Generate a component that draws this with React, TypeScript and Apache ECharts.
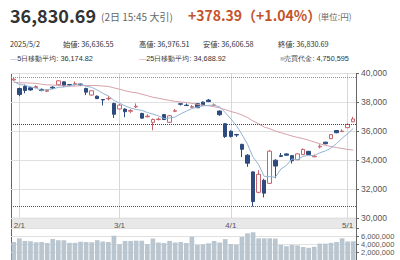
import React, { useEffect, useRef } from "react";
import * as echarts from "echarts";

const FONT = '"Noto Sans CJK JP", "Noto Sans", sans-serif';
const NUMFONT = '"Liberation Sans", Arial, sans-serif';

const dates = [
  "1/31",
  "2/3", "2/4", "2/5", "2/6", "2/7", "2/10", "2/12", "2/13", "2/14", "2/17", "2/18", "2/19", "2/20", "2/21", "2/25", "2/26", "2/27", "2/28",
  "3/3", "3/4", "3/5", "3/6", "3/7", "3/10", "3/11", "3/12", "3/13", "3/14", "3/17", "3/18", "3/19", "3/21", "3/24", "3/25", "3/26", "3/27", "3/28", "3/31",
  "4/1", "4/2", "4/3", "4/4", "4/7", "4/8", "4/9", "4/10", "4/11", "4/14", "4/15", "4/16", "4/17", "4/18", "4/21", "4/22", "4/23", "4/24", "4/25", "4/28", "4/30",
  "5/1", "5/2",
];

const opens = [39520, 38930, 39070, 38980, 39000, 38870, 38740, 39020, 39190, 39390, 39200, 39210, 39240, 38935, 38480, 38400, 38170, 38220, 37900, 37520, 37510, 37360, 37660, 37210, 36980, 36600, 36790, 37130, 36600, 37360, 37880, 37780, 37640, 37880, 37990, 38130, 37760, 37375, 36500, 35980, 35760, 35080, 34330, 33180, 31770, 32600, 32390, 33985, 34300, 34420, 34300, 34020, 34370, 34600, 34220, 34900, 35230, 35470, 36030, 35960, 36230, 36636.55];
const closes = [39572, 38520, 38798, 38831, 39066, 38787, 38801, 38963, 39461, 39149, 39174, 39270, 39164, 38678, 38777, 38237, 38142, 38256, 37155, 37785, 37331, 37418, 37705, 36887, 37028, 36793, 36819, 36790, 37053, 37396, 37845, 37752, 37677, 37608, 37780, 38027, 37800, 37120, 35617, 35624, 35725, 34736, 33780, 31136, 33012, 31714, 34609, 33585, 34250, 34330, 33950, 34420, 34730, 34380, 34260, 34950, 35120, 35750, 35880, 36000, 36452.3, 36830.69];
const lows = [39450, 38400, 38600, 38780, 38950, 38740, 38680, 38900, 39150, 39050, 39090, 39120, 39100, 38480, 38440, 38200, 37760, 38110, 36900, 37480, 36950, 37230, 37580, 36850, 36930, 36050, 36730, 36760, 36560, 37300, 37760, 37740, 37590, 37580, 37760, 37990, 37700, 37050, 35520, 35550, 35590, 34200, 33530, 30792.74, 31700, 31420, 32350, 32750, 34200, 34300, 33760, 33980, 34340, 34350, 34200, 34800, 35080, 35440, 35850, 35940, 36200, 36606.58];
const highs = [39720, 38990, 39200, 39060, 39150, 38930, 38860, 39090, 39500, 39420, 39240, 39420, 39280, 38980, 38800, 38450, 38190, 38400, 37960, 37860, 37560, 37510, 37900, 37260, 37150, 36860, 36930, 37170, 37100, 37520, 37900, 37900, 37790, 37930, 38040, 38200, 37900, 37420, 36550, 36050, 35800, 35110, 34400, 33220, 33300, 32700, 34700, 34050, 34480, 34460, 34340, 34450, 34800, 34620, 34380, 35080, 35260, 35790, 36060, 36120, 36530, 36976.51];

const ma5 = [39417, 39208, 39164, 39047, 38957, 38800, 38857, 38890, 39016, 39032, 39110, 39203, 39244, 39087, 39013, 38825, 38600, 38418, 38113, 37915, 37734, 37589, 37479, 37425, 37274, 37166, 37046, 36863, 36897, 36970, 37181, 37367, 37545, 37656, 37732, 37769, 37778, 37667, 37269, 36838, 36377, 35764, 35096, 34200, 33678, 32876, 32850, 32811, 33380, 33631, 34073, 34026, 34255, 34315, 34305, 34495, 34627, 34822, 35134, 35499, 35816, 36174.82];
const ma25 = [39353, 39327, 39318, 39306, 39286, 39226, 39182, 39168, 39143, 39110, 39093, 39096, 39124, 39133, 39141, 39133, 39102, 39071, 38972, 38881, 38777, 38691, 38639, 38538, 38438, 38327, 38259, 38179, 38108, 38041, 38003, 37961, 37910, 37836, 37781, 37735, 37676, 37594, 37472, 37346, 37245, 37109, 36930, 36689, 36498, 36274, 36161, 35997, 35880, 35770, 35655, 35557, 35475, 35364, 35237, 35118, 35009, 34930, 34860, 34790, 34727, 34688.92];

const volumes = [4560000, 5500000, 4840000, 4760000, 4500000, 4560000, 4300000, 5360000, 5040000, 5040000, 4360000, 4360000, 4640000, 4560000, 4500000, 5040000, 4700000, 4560000, 6160000, 4000000, 4840000, 4840000, 4900000, 4900000, 4040000, 5440000, 4440000, 4300000, 4840000, 4440000, 4560000, 4300000, 5900000, 3840000, 3960000, 4240000, 4840000, 4440000, 5300000, 4040000, 3900000, 5840000, 6760000, 7040000, 5500000, 5500000, 5500000, 5440000, 3840000, 3500000, 3840000, 3700000, 3300000, 3100000, 3360000, 4160000, 4160000, 4360000, 4560000, 5500000, 4700000, 4750595];

const periodHigh = 39720;
const prevClose = 36452.3;
const periodLow = 30792.74;

const headline = "36,830.69";
const headlineSub = "(2日 15:45 大引)";
const change = "+378.39（+1.04%）";
const unit = "(単位:円)";
const infoRow1 = [
  { x: 10, text: "2025/5/2" },
  { x: 63, text: "始値: 36,636.55" },
  { x: 139, text: "高値: 36,976.51" },
  { x: 203, text: "安値: 36,606.58" },
  { x: 278, text: "終値: 36,830.69" },
];

const UP = "#c8646c";
const DOWN = "#2d4b7f";
const MA5C = "#93b4d2";
const MA25C = "#d6a2aa";
const VOLC = "#b9c5cf";

const monthOf = (d: string) => d.split("/")[0];
const isMonthStart = (i: number) => i > 0 && monthOf(dates[i]) !== monthOf(dates[i - 1]);
const fmt = (v: number) => Math.round(v).toLocaleString("en-US");

export default function App() {
  const ref = useRef<HTMLDivElement>(null);
  useEffect(() => {
    if (!ref.current) return;
    const chart = echarts.init(ref.current, undefined, { renderer: "svg" });
    const small = { fontSize: 7.3, fontFamily: FONT, fill: "#333", verticalAlign: "middle", textVerticalAlign: "middle" };
    const option: any = {
      animation: false,
      textStyle: { fontFamily: FONT },
      grid: [
        { left: 11, right: 44, top: 73, height: 145 },
        { left: 11, right: 44, top: 228.5, height: 40 },
      ],
      xAxis: [
        {
          type: "category",
          gridIndex: 0,
          data: dates,
          axisLine: { show: false },
          axisTick: { show: false },
          axisLabel: {
            interval: (i: number) => isMonthStart(i),
            formatter: (v: string) => monthOf(v) + "/1",
            fontSize: 8,
            color: "#555",
            margin: 3,
            fontFamily: NUMFONT,
          },
          splitLine: {
            show: true,
            interval: (i: number) => isMonthStart(i),
            alignWithLabel: true,
            lineStyle: { color: "#d8d8d8", width: 1 },
          },
        },
        {
          type: "category",
          gridIndex: 1,
          data: dates,
          axisLine: { show: false },
          axisTick: { show: false },
          axisLabel: { show: false },
          splitLine: { show: false },
        },
      ],
      yAxis: [
        {
          type: "value",
          gridIndex: 0,
          position: "right",
          min: 30000,
          max: 40000,
          interval: 2000,
          axisLine: { show: false },
          axisTick: { show: true, length: 3, lineStyle: { color: "#666" } },
          axisLabel: { fontSize: 8.5, color: "#555", margin: 5, fontFamily: NUMFONT, formatter: (v: number) => fmt(v) },
          splitLine: { lineStyle: { color: "#e0e0e0" } },
        },
        {
          type: "value",
          gridIndex: 1,
          position: "right",
          min: 0,
          max: 8000000,
          interval: 2000000,
          axisLine: { show: false },
          axisTick: { show: true, length: 3, lineStyle: { color: "#666" } },
          axisLabel: {
            fontSize: 7.5,
            lineHeight: 8,
            color: "#555",
            margin: 5,
            fontFamily: NUMFONT,
            formatter: (v: number) => (v === 0 || v === 8000000 ? "" : fmt(v)),
          },
          splitLine: { lineStyle: { color: "#e0e0e0" } },
        },
      ],
      series: [
        {
          type: "bar",
          xAxisIndex: 1,
          yAxisIndex: 1,
          data: volumes,
          barWidth: "84%",
          itemStyle: { color: VOLC },
          silent: true,
        },
        {
          type: "candlestick",
          xAxisIndex: 0,
          yAxisIndex: 0,
          data: opens.map((o, i) => [o, closes[i], lows[i], highs[i]]),
          barWidth: 4,
          itemStyle: { color: "#ffffff", color0: DOWN, borderColor: UP, borderColor0: DOWN, borderWidth: 1 },
          markLine: {
            silent: true,
            symbol: "none",
            label: { show: false },
            data: [
              { yAxis: periodHigh, lineStyle: { color: "#c87a82", type: "dotted", width: 1 } },
              { yAxis: prevClose, lineStyle: { color: "#444", type: "dotted", width: 1 } },
              { yAxis: periodLow, lineStyle: { color: "#555", type: "dotted", width: 1 } },
            ],
          },
        },
        {
          type: "line",
          xAxisIndex: 0,
          yAxisIndex: 0,
          data: ma25,
          symbol: "none",
          lineStyle: { color: MA25C, width: 1 },
          silent: true,
        },
        {
          type: "line",
          xAxisIndex: 0,
          yAxisIndex: 0,
          data: ma5,
          symbol: "none",
          lineStyle: { color: MA5C, width: 1 },
          silent: true,
        },
      ],
      graphic: [
        { type: "rect", z: -1, shape: { x: 11, y: 217.5, width: 345, height: 10.5 }, style: { fill: "#e8e8e8" } },
        { type: "line", shape: { x1: 11.5, y1: 73, x2: 11.5, y2: 260 }, style: { stroke: "#666", lineWidth: 1 } },
        { type: "line", shape: { x1: 356.5, y1: 73, x2: 356.5, y2: 260 }, style: { stroke: "#666", lineWidth: 1 } },
        { type: "line", shape: { x1: 11, y1: 73.5, x2: 357, y2: 73.5 }, style: { stroke: "#666", lineWidth: 1 } },
        {
          type: "text",
          style: { text: headline, x: 10, y: 15, fontSize: 18, fontWeight: "bold", fontFamily: FONT, fill: "#333", verticalAlign: "middle", textVerticalAlign: "middle" },
        },
        {
          type: "text",
          style: { text: headlineSub, x: 101, y: 16, fontSize: 10, fontFamily: FONT, fill: "#666", verticalAlign: "middle", textVerticalAlign: "middle" },
        },
        {
          type: "text",
          style: { text: change, x: 188, y: 15, fontSize: 14, fontWeight: "bold", fontFamily: FONT, fill: "#c4532c", verticalAlign: "middle", textVerticalAlign: "middle" },
        },
        {
          type: "text",
          style: { text: unit, x: 318, y: 16, fontSize: 8.5, fontFamily: FONT, fill: "#666", verticalAlign: "middle", textVerticalAlign: "middle" },
        },
        ...infoRow1.map((r) => ({ type: "text", style: { ...small, text: r.text, x: r.x, y: 44 } })),
        {
          type: "text",
          style: { ...small, text: "{d|—}{t|5日移動平均: 36,174.82}", x: 10, y: 58, rich: { d: { fill: MA5C, fontSize: 7.3 }, t: { fill: "#333", fontSize: 7.3 } } },
        },
        {
          type: "text",
          style: { ...small, text: "{d|—}{t|25日移動平均: 34,688.92}", x: 139, y: 58, rich: { d: { fill: MA25C, fontSize: 7.3 }, t: { fill: "#333", fontSize: 7.3 } } },
        },
        {
          type: "text",
          style: { ...small, text: "{d|■}{t|売買代金: 4,750,595}", x: 280, y: 58, rich: { d: { fill: VOLC, fontSize: 7.3 }, t: { fill: "#333", fontSize: 7.3 } } },
        },
      ],
    };
    chart.setOption(option);
    return () => chart.dispose();
  }, []);
  return (
    <div
      ref={ref}
      style={{ position: "fixed", left: 0, top: 0, width: 400, height: 260, overflow: "hidden", background: "#fff" }}
    />
  );
}
